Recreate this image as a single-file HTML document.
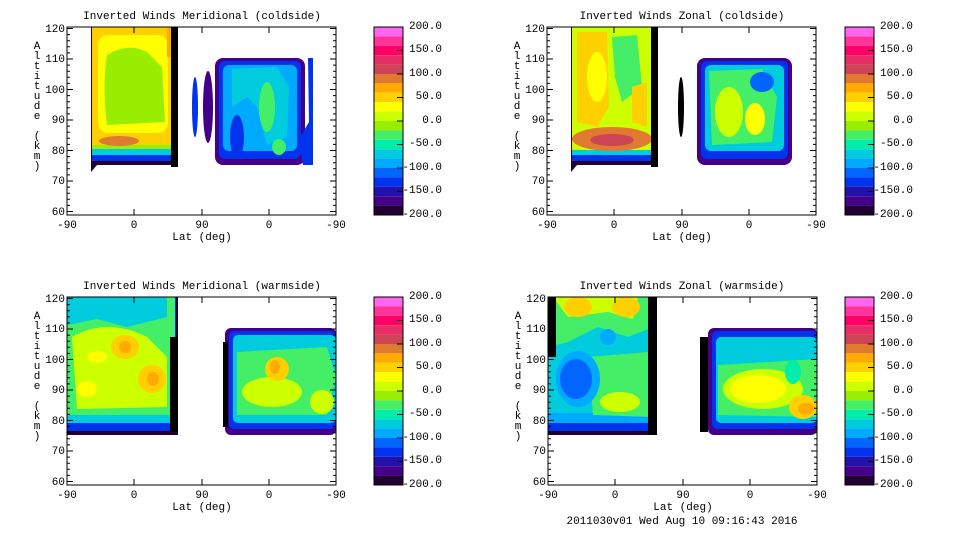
<!DOCTYPE html>
<html><head><meta charset="utf-8"><style>
body{margin:0;background:#fff;}
svg text{font-family:"Liberation Mono",monospace;font-size:11px;fill:#000;}
</style></head><body>
<svg width="960" height="540" viewBox="0 0 960 540" xmlns="http://www.w3.org/2000/svg">
<defs>
<g id="axes">
  <rect x="0" y="0" width="269" height="188" fill="none" stroke="#000" stroke-width="1"/>
  <path d="M0,1.5h6M0,32h6M0,62.5h6M0,93h6M0,123.5h6M0,154h6M0,184.5h6 M269,1.5h-6M269,32h-6M269,62.5h-6M269,93h-6M269,123.5h-6M269,154h-6M269,184.5h-6" stroke="#000"/>
  <path d="M0,7.6h3M0,13.7h3M0,19.8h3M0,25.9h3M0,38.1h3M0,44.2h3M0,50.3h3M0,56.4h3M0,68.6h3M0,74.7h3M0,80.8h3M0,86.9h3M0,99.1h3M0,105.2h3M0,111.3h3M0,117.4h3M0,129.6h3M0,135.7h3M0,141.8h3M0,147.9h3M0,160.1h3M0,166.2h3M0,172.3h3M0,178.4h3 M269,7.6h-3M269,13.7h-3M269,19.8h-3M269,25.9h-3M269,38.1h-3M269,44.2h-3M269,50.3h-3M269,56.4h-3M269,68.6h-3M269,74.7h-3M269,80.8h-3M269,86.9h-3M269,99.1h-3M269,105.2h-3M269,111.3h-3M269,117.4h-3M269,129.6h-3M269,135.7h-3M269,141.8h-3M269,147.9h-3M269,160.1h-3M269,166.2h-3M269,172.3h-3M269,178.4h-3" stroke="#000"/>
  <path d="M67,188v-6M135,188v-6M202,188v-6M67,0v6M135,0v6M202,0v6" stroke="#000"/>
  <g text-anchor="end">
  <text x="-2" y="5">120</text><text x="-2" y="35">110</text><text x="-2" y="66">100</text><text x="-2" y="96">90</text><text x="-2" y="127">80</text><text x="-2" y="157">70</text><text x="-2" y="188">60</text>
  </g>
  <g text-anchor="middle">
  <text x="0" y="201">-90</text><text x="67" y="201">0</text><text x="135" y="201">90</text><text x="202" y="201">0</text><text x="269" y="201">-90</text>
  <text x="135" y="213">Lat (deg)</text>
  <text x="-30" y="22">A</text><text x="-30" y="32">l</text><text x="-30" y="42">t</text><text x="-30" y="52">i</text><text x="-30" y="62">t</text><text x="-30" y="72">u</text><text x="-30" y="82">d</text><text x="-30" y="92">e</text><text x="-30" y="112">(</text><text x="-30" y="122">k</text><text x="-30" y="132">m</text><text x="-30" y="142">)</text>
  </g>
</g>
<g id="cbar">
  <rect x="0" y="0" width="29" height="9.4" fill="#ff66ee"/>
  <rect x="0" y="9.4" width="29" height="9.4" fill="#ff3399"/>
  <rect x="0" y="18.8" width="29" height="9.4" fill="#ff0066"/>
  <rect x="0" y="28.2" width="29" height="9.4" fill="#e82e66"/>
  <rect x="0" y="37.6" width="29" height="9.4" fill="#cc4455"/>
  <rect x="0" y="47" width="29" height="9.4" fill="#e07a30"/>
  <rect x="0" y="56.4" width="29" height="9.4" fill="#ffaa00"/>
  <rect x="0" y="65.8" width="29" height="9.4" fill="#ffd000"/>
  <rect x="0" y="75.2" width="29" height="9.4" fill="#ffff00"/>
  <rect x="0" y="84.6" width="29" height="9.4" fill="#ccff00"/>
  <rect x="0" y="94" width="29" height="9.4" fill="#99ee00"/>
  <rect x="0" y="103.4" width="29" height="9.4" fill="#44ee66"/>
  <rect x="0" y="112.8" width="29" height="9.4" fill="#00eeaa"/>
  <rect x="0" y="122.2" width="29" height="9.4" fill="#00ccdd"/>
  <rect x="0" y="131.6" width="29" height="9.4" fill="#00aaff"/>
  <rect x="0" y="141" width="29" height="9.4" fill="#0066ff"/>
  <rect x="0" y="150.4" width="29" height="9.4" fill="#0033ee"/>
  <rect x="0" y="159.8" width="29" height="9.4" fill="#2211aa"/>
  <rect x="0" y="169.2" width="29" height="9.4" fill="#440088"/>
  <rect x="0" y="178.6" width="29" height="9.4" fill="#220033"/>
  <rect x="0" y="0" width="29" height="188" fill="none" stroke="#000"/>
  <path d="M23,23.5h6M23,47h6M23,70.5h6M23,94h6M23,117.5h6M23,141h6M23,164.5h6" stroke="#000"/>
  <g text-anchor="end">
  <text x="68" y="2">200.0</text><text x="68" y="25">150.0</text><text x="68" y="49">100.0</text><text x="68" y="72">50.0</text><text x="68" y="96">0.0</text><text x="68" y="119">-50.0</text><text x="68" y="143">-100.0</text><text x="68" y="166">-150.0</text><text x="68" y="190">-200.0</text>
  </g>
</g>
</defs>

<!-- TOP LEFT -->
<g transform="translate(67,27)">
  <path d="M24,0H111V138H30L24,145Z" fill="#220033"/>
  <rect x="25" y="0" width="84" height="134" fill="#0033ee"/>
  <rect x="25" y="0" width="82" height="128" fill="#00ccdd"/>
  <rect x="25" y="0" width="82" height="122" fill="#99ee00"/>
  <rect x="25" y="0" width="82" height="118" fill="#ffd000"/>
  <ellipse cx="52" cy="114" rx="20" ry="5" fill="#e07a30"/>
  <rect x="31" y="8" width="70" height="98" rx="10" fill="#ffff00"/>
  <path d="M40,28 Q60,15 80,25 L95,40 L98,95 L40,98 Q35,60 40,28Z" fill="#99ee00"/>
  <rect x="100" y="0" width="5" height="30" fill="#ffaa00"/>
  <rect x="104" y="0" width="7" height="140" fill="#000"/>
  <ellipse cx="128" cy="80" rx="3" ry="30" fill="#0033ee"/>
  <ellipse cx="141" cy="80" rx="5" ry="36" fill="#440088"/>
  <rect x="148" y="31" width="90" height="107" rx="8" fill="#440088"/>
  <rect x="152" y="34" width="82" height="98" rx="6" fill="#0033ee"/>
  <rect x="156" y="38" width="74" height="86" rx="6" fill="#00aaff"/>
  <path d="M165,42 L210,40 L222,60 L220,110 L200,118 L190,80 L180,70 L165,80Z" fill="#00ccdd"/>
  <ellipse cx="200" cy="80" rx="8" ry="25" fill="#44ee66"/>
  <ellipse cx="212" cy="120" rx="7" ry="8" fill="#44ee66"/>
  <ellipse cx="170" cy="110" rx="7" ry="22" fill="#0033ee"/>
  <path d="M241,31 L246,31 L246,138 L236,138 L232,112 L242,95Z" fill="#0033ee"/>
</g>
<use href="#axes" x="67" y="27"/>
<use href="#cbar" x="374" y="27"/>
<text x="202" y="19" text-anchor="middle">Inverted Winds Meridional (coldside)</text>

<!-- TOP RIGHT -->
<g transform="translate(547,27)">
  <path d="M24,0H111V138H30L24,145Z" fill="#220033"/>
  <rect x="25" y="0" width="84" height="134" fill="#0033ee"/>
  <rect x="25" y="0" width="82" height="128" fill="#00ccdd"/>
  <rect x="25" y="0" width="82" height="123" fill="#ccff00"/>
  <ellipse cx="65" cy="112" rx="40" ry="12" fill="#e07a30"/>
  <ellipse cx="65" cy="113" rx="22" ry="6" fill="#cc4455"/>
  <path d="M30,5 L60,5 L62,80 L50,100 L30,95Z" fill="#ffd000"/>
  <path d="M65,10 L90,8 L95,60 L75,75 L68,50Z" fill="#44ee66"/>
  <ellipse cx="50" cy="50" rx="10" ry="25" fill="#ffff00"/>
  <path d="M85,60 L100,55 L100,100 L85,95Z" fill="#ffd000"/>
  <rect x="104" y="0" width="7" height="140" fill="#000"/>
  <ellipse cx="134" cy="80" rx="3" ry="30" fill="#000"/>
  <rect x="150" y="31" width="95" height="107" rx="8" fill="#440088"/>
  <rect x="154" y="34" width="87" height="98" rx="6" fill="#0033ee"/>
  <rect x="158" y="38" width="79" height="86" rx="6" fill="#00ccdd"/>
  <path d="M162,44 L215,42 L230,70 L225,115 L165,118Z" fill="#44ee66"/>
  <ellipse cx="182" cy="85" rx="14" ry="25" fill="#ccff00"/>
  <ellipse cx="208" cy="92" rx="10" ry="16" fill="#ffff00"/>
  <ellipse cx="215" cy="55" rx="12" ry="10" fill="#0066ff"/>
</g>
<use href="#axes" x="547" y="27"/>
<use href="#cbar" x="845" y="27"/>
<text x="682" y="19" text-anchor="middle">Inverted Winds Zonal (coldside)</text>

<!-- BOTTOM LEFT -->
<g transform="translate(67,297)">
  <path d="M0,0H111V138H0Z" fill="#220033"/>
  <rect x="0" y="0" width="109" height="134" fill="#0033ee"/>
  <rect x="0" y="0" width="108" height="126" fill="#00ccdd"/>
  <rect x="0" y="0" width="108" height="118" fill="#44ee66"/>
  <path d="M0,0H100V20L60,30L30,22L0,28Z" fill="#00ccdd"/>
  <path d="M5,40 Q40,20 80,40 L100,60 L100,110 L10,112Z" fill="#ccff00"/>
  <ellipse cx="58" cy="50" rx="14" ry="12" fill="#ffd000"/>
  <ellipse cx="58" cy="50" rx="6" ry="6" fill="#ffaa00"/>
  <ellipse cx="85" cy="82" rx="14" ry="14" fill="#ffd000"/>
  <ellipse cx="86" cy="82" rx="6" ry="7" fill="#ffaa00"/>
  <ellipse cx="20" cy="92" rx="10" ry="8" fill="#ffff00"/>
  <ellipse cx="30" cy="60" rx="10" ry="6" fill="#ffff00"/>
  <rect x="103" y="40" width="8" height="95" fill="#000"/>
  <rect x="158" y="31" width="111" height="107" rx="6" fill="#440088"/>
  <rect x="162" y="34" width="107" height="98" rx="5" fill="#0033ee"/>
  <rect x="166" y="38" width="103" height="88" rx="5" fill="#00ccdd"/>
  <path d="M170,55 L260,50 L269,80 L260,118 L170,118Z" fill="#44ee66"/>
  <ellipse cx="205" cy="95" rx="30" ry="15" fill="#ccff00"/>
  <ellipse cx="210" cy="72" rx="12" ry="12" fill="#ffd000"/>
  <ellipse cx="208" cy="70" rx="5" ry="7" fill="#ffaa00"/>
  <ellipse cx="255" cy="105" rx="12" ry="12" fill="#ccff00"/>
  <rect x="156" y="45" width="5" height="85" fill="#000"/>
</g>
<use href="#axes" x="67" y="297"/>
<use href="#cbar" x="374" y="297"/>
<text x="202" y="289" text-anchor="middle">Inverted Winds Meridional (warmside)</text>

<!-- BOTTOM RIGHT -->
<g transform="translate(548,297)">
  <path d="M0,0H109V138H0Z" fill="#220033"/>
  <rect x="0" y="0" width="107" height="134" fill="#0033ee"/>
  <rect x="0" y="0" width="106" height="126" fill="#00aaff"/>
  <rect x="0" y="0" width="106" height="116" fill="#00ccdd"/>
  <path d="M0,0H106V30L80,40L50,30L20,45L0,50Z" fill="#44ee66"/>
  <path d="M5,0H90L85,22L60,15L20,20Z" fill="#ccff00"/>
  <ellipse cx="30" cy="10" rx="14" ry="10" fill="#ffd000"/>
  <ellipse cx="78" cy="10" rx="14" ry="10" fill="#ffd000"/>
  <path d="M40,60 L100,55 L104,120 L45,118Z" fill="#44ee66"/>
  <ellipse cx="72" cy="105" rx="20" ry="10" fill="#ccff00"/>
  <ellipse cx="30" cy="82" rx="22" ry="28" fill="#00aaff"/>
  <ellipse cx="28" cy="82" rx="16" ry="20" fill="#0066ff"/>
  <ellipse cx="60" cy="40" rx="8" ry="8" fill="#00aaff"/>
  <rect x="0" y="0" width="8" height="60" fill="#000"/>
  <rect x="100" y="0" width="9" height="138" fill="#000"/>
  <rect x="160" y="31" width="109" height="107" rx="6" fill="#440088"/>
  <rect x="164" y="34" width="105" height="98" rx="5" fill="#0033ee"/>
  <rect x="168" y="40" width="101" height="86" rx="5" fill="#00ccdd"/>
  <path d="M170,68 L269,62 L269,120 L170,118Z" fill="#44ee66"/>
  <ellipse cx="215" cy="92" rx="40" ry="20" fill="#ccff00"/>
  <ellipse cx="210" cy="92" rx="28" ry="14" fill="#ffff00"/>
  <ellipse cx="255" cy="110" rx="14" ry="12" fill="#ffd000"/>
  <ellipse cx="258" cy="112" rx="8" ry="6" fill="#ffaa00"/>
  <ellipse cx="245" cy="75" rx="8" ry="12" fill="#00eeaa"/>
  <rect x="152" y="40" width="8" height="95" fill="#000"/>
</g>
<use href="#axes" x="548" y="297"/>
<use href="#cbar" x="845" y="297"/>
<text x="682" y="289" text-anchor="middle">Inverted Winds Zonal (warmside)</text>
<text x="682" y="524" text-anchor="middle">2011030v01 Wed Aug 10 09:16:43 2016</text>
</svg>
</body></html>
